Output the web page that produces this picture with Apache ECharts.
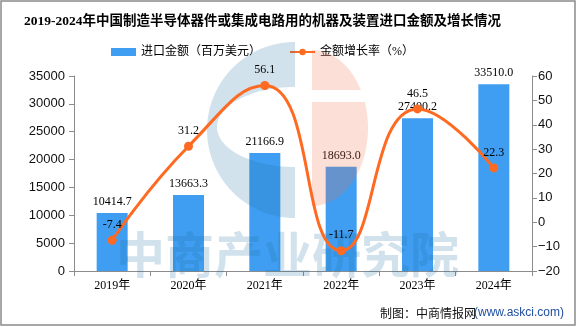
<!DOCTYPE html>
<html>
<head>
<meta charset="utf-8">
<script src="https://cdn.jsdelivr.net/npm/echarts@6/dist/echarts.min.js"></script>
<style>html,body{margin:0;padding:0;background:#fff}#c{width:576px;height:327px}</style>
</head>
<body>
<div id="c"></div>
<script>
const titleText = '2019-2024年中国制造半导体器件或集成电路用的机器及装置进口金额及增长情况';
const categories = ['2019年', '2020年', '2021年', '2022年', '2023年', '2024年'];
const importValues = [10414.7, 13663.3, 21166.9, 18693.0, 27400.2, 33510.0];
const growthRates = [-7.4, 31.2, 56.1, -11.7, 46.5, 22.3];
const barName = '进口金额（百万美元）';
const lineName = '金额增长率（%）';

const serif = "'Liberation Serif', 'Noto Sans CJK SC', serif";
const sans = "'Liberation Sans', Arial, 'Noto Sans CJK SC', sans-serif";
const axisColor = '#8c8c8c';

// watermark logo outline helper (decoration only)
function arcPts(cx, cy, rx, ry, a0, a1, n) {
  const pts = [];
  for (let i = 0; i <= n; i++) {
    const t = (a0 + (a1 - a0) * i / n) * Math.PI / 180;
    pts.push([cx + rx * Math.cos(t), cy + ry * Math.sin(t)]);
  }
  return pts;
}
const bluePts = arcPts(295, 130, 88, 88, 270, 90, 60).concat(arcPts(295, 127, 78, 40, 90, 270, 60));
const orangeTop = arcPts(312, 128, 56, 78, 270, 330.8, 20).concat([[312, 90]]);
const orangeBot = [[312, 102]].concat(arcPts(312, 128, 56, 78, 340.5, 450, 40));

const chart = echarts.init(document.getElementById('c'), null, {renderer: 'canvas'});
chart.setOption({
  animation: false,
  backgroundColor: '#fff',
  title: {
    text: titleText, left: 24, top: 15, padding: 0,
    textStyle: {fontFamily: serif, fontWeight: 'bold', fontSize: 13.5, color: '#000'}
  },
  legend: {
    left: 111, top: 46, padding: 0, itemGap: 28, itemWidth: 25, itemHeight: 8, itemTextGap: 4,
    textStyle: {fontFamily: serif, fontSize: 12, color: '#000'},
    data: [{name: barName, icon: 'rect'}, {name: lineName}]
  },
  grid: {left: 74, right: 44, top: 76, bottom: 56, containLabel: false},
  xAxis: {
    type: 'category', data: categories, boundaryGap: true,
    axisLine: {lineStyle: {color: axisColor, width: 1}},
    axisTick: {show: true, alignWithLabel: false, length: 5, lineStyle: {color: axisColor}},
    axisLabel: {margin: 9, fontFamily: serif, fontSize: 12, color: '#000'},
    splitLine: {show: false}
  },
  yAxis: [
    {
      type: 'value', min: 0, max: 35000, interval: 5000, position: 'left',
      axisLine: {show: true, lineStyle: {color: axisColor}},
      axisTick: {show: true, length: 5, lineStyle: {color: axisColor}},
      axisLabel: {margin: 9, fontFamily: sans, fontSize: 13, color: '#111', formatter: v => String(v)},
      splitLine: {show: false}
    },
    {
      type: 'value', min: -20, max: 60, interval: 10, position: 'right',
      axisLine: {show: true, lineStyle: {color: axisColor}},
      axisTick: {show: true, length: 5, lineStyle: {color: axisColor}},
      axisLabel: {margin: 6, fontFamily: sans, fontSize: 13, color: '#111',
        formatter: v => String(v).replace('-', '\u2212')},
      splitLine: {show: false}
    }
  ],
  series: [
    {
      name: barName, type: 'bar', yAxisIndex: 0, data: importValues, barWidth: 31, z: 1,
      itemStyle: {color: '#3f9ef1'},
      label: {show: true, position: 'top', distance: 5, fontFamily: serif, fontSize: 12, color: '#000',
        formatter: p => p.value.toFixed(1)}
    },
    {
      name: lineName, type: 'line', yAxisIndex: 1, data: growthRates, smooth: 0.5, z: 10,
      symbol: 'circle', symbolSize: 9,
      lineStyle: {color: '#ff6a22', width: 3},
      itemStyle: {color: '#ff6a22'},
      label: {show: true, position: 'top', distance: 5, fontFamily: serif, fontSize: 12, color: '#000',
        formatter: p => p.value.toFixed(1)}
    }
  ],
  graphic: [
    {type: 'rect', z: 0, silent: true, shape: {x: 1, y: 1, width: 574, height: 324},
      style: {fill: 'none', stroke: '#8a8a8a', lineWidth: 1.5}},
    {type: 'polygon', z: 5, silent: true, shape: {points: bluePts},
      style: {fill: 'rgba(30,110,160,0.2)'}},
    {type: 'polygon', z: 5, silent: true, shape: {points: orangeTop},
      style: {fill: 'rgba(240,110,70,0.22)'}},
    {type: 'polygon', z: 5, silent: true, shape: {points: orangeBot},
      style: {fill: 'rgba(240,110,70,0.22)'}},
    {type: 'text', z: 5, silent: true, left: 116, top: 230,
      style: {text: '中商产业研究院', font: "bold 49px 'Noto Sans CJK SC'", fill: 'rgba(30,110,160,0.2)'}},
    {type: 'text', z: 5, silent: true, left: 380, top: 307,
      style: {text: '制图：中商情报网', font: "12px 'Noto Sans CJK SC'", fill: '#111'}},
    {type: 'text', z: 5, silent: true, left: 474, top: 307,
      style: {text: '(www.askci.com)', font: "12px 'Liberation Sans', Arial", fill: '#1f4fa0'}}
  ]
});
</script>
</body>
</html>
